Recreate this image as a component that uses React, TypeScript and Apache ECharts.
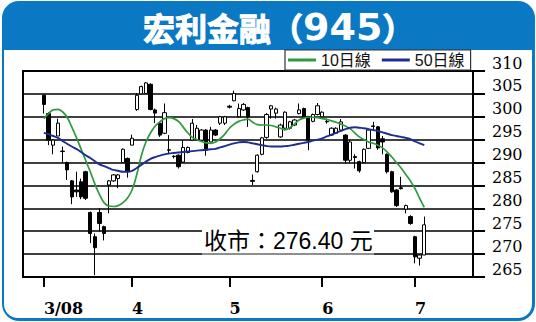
import React, { useEffect, useRef } from 'react';
import * as echarts from 'echarts';

// Month labels on the x axis and trading days shown in each month
const monthLabels = ['3/08', '4', '5', '6', '7'];
const tradingDays = [19, 21, 20, 20, 3];
const leadSlots = 4;   // empty day slots before the first candle
const tailSlots = 10;  // empty day slots after the last candle

const opens = [
  304.7, 300.7, 293.8, 295.8, 292.4, 290, 286, 284, 285.8, 288, 279.1, 273.8, 279.1, 276, 285.1, 286, 286.5, 290, 290.9,
  293.8, 301.6, 305, 305.1, 307.1, 301.5, 298.6, 296.4, 292.8, 291.4, 291.6, 290.1, 292.2, 294.9, 294.9, 294.9, 297.1, 294.5, 297.1, 298.6, 298.6,
  302.3, 303.5, 300, 301.5, 302, 286.1, 288, 291.8, 295.5, 301.7, 300.8, 295.6, 297.5, 297.5, 298.2, 300.7, 301.8, 300, 299, 300.5,
  300, 299, 296, 296.4, 297.1, 296, 290.5, 291.3, 290.2, 290, 293.1, 298, 297.8, 295.2, 291.8, 288, 284, 284.5, 279.8, 278.2,
  273.8, 269.1, 269.8,
];
const closes = [
  302.7, 294.9, 294.9, 298.6, 292.5, 288.4, 282.5, 283.6, 282.5, 282.2, 274.5, 271.4, 276.7, 274.5, 286, 287.3, 287.3, 292.9, 288,
  295.3, 304.7, 306.6, 307.4, 301.6, 300.8, 296, 300.9, 292.7, 291.3, 289.1, 293.3, 293.3, 298.6, 297.5, 297.1, 292.7, 297.1, 296, 300, 300,
  302.1, 305.1, 301.8, 302.7, 300, 285.9, 291.6, 295.4, 300.5, 302.4, 301.7, 298.2, 301, 298.9, 299.3, 301.5, 300, 294.9, 300.5, 302.4,
  301, 298.9, 297.5, 297.5, 298.9, 290.5, 294.5, 291.1, 288.2, 292.9, 297.1, 297.9, 293.2, 294.5, 288, 283.6, 280.6, 284.3, 280.6, 276.7,
  269.4, 269.8, 276.4,
];
const lows = [
  300.7, 293.8, 291.8, 295.8, 290, 286.2, 280.9, 282.5, 282, 281.8, 272.4, 265.4, 274.9, 273, 278.9, 285.8, 284.4, 290, 286.7,
  293.8, 301.3, 304.9, 305, 301.4, 298.6, 295.6, 296.2, 291.8, 290.9, 288.7, 290, 292, 294.8, 294.8, 294.7, 291.5, 294.4, 295.8, 298.2, 298.2,
  301.8, 303.4, 299.8, 301.3, 297.8, 285.1, 287.8, 291.6, 295.2, 299.6, 299.6, 295.4, 297, 297.2, 298, 300.5, 299.6, 292.7, 298.8, 300.3,
  299.8, 298.5, 295.8, 296.2, 297, 289.8, 290, 288.7, 287.8, 289.8, 293, 297.1, 292.8, 291.8, 287.6, 283.4, 280.3, 284.1, 278.9, 276.4,
  268, 267.5, 269.8,
];
const highs = [
  304.9, 301, 295.1, 299.6, 293.5, 290.2, 286.2, 288, 286.5, 288.2, 279.3, 274.5, 280, 276.2, 286.2, 287.5, 287.5, 293.1, 291.1,
  296.1, 305.2, 306.8, 307.6, 307.3, 301.8, 298.8, 302.9, 296, 291.6, 291.8, 294.9, 293.5, 299.5, 298.2, 297.3, 297.3, 297.8, 297.3, 300.2, 300.2,
  302.6, 305.7, 302.9, 303, 302.2, 287.4, 291.8, 295.6, 300.8, 302.6, 302, 298.5, 301.2, 299.1, 299.5, 302.9, 302, 300.2, 300.7, 303,
  301.2, 299.6, 297.7, 297.7, 299.5, 296.2, 295, 291.8, 290.4, 293.1, 297.3, 298.9, 298, 295.8, 292, 288.2, 284.2, 286.9, 280.8, 278.5,
  274, 270, 278.2,
];
const ma10 = [
  299.6, 300.7, 301.5, 301.6, 301.1, 299.9, 297.8, 295.5, 293, 290.5, 288, 285.3, 283, 281.2, 280.5, 280.4, 280.6, 281.2, 282.2,
  284, 287.3, 291.5, 294.5, 296.5, 298, 298.9, 299.6, 299.8, 299.6, 299, 297.8, 296.5, 295.5, 295, 294.6, 294.3, 294.2, 294.5, 295.2, 296.2,
  297.5, 298.4, 299, 299.3, 299.5, 298.8, 298.3, 298.2, 298.2, 298.1, 297.8, 297.5, 297.2, 297.6, 298.4, 299.3, 299.7, 299.9, 299.9, 299.8,
  299.6, 299.4, 299.1, 298.8, 298.4, 298, 297.4, 296.5, 295.6, 295, 294.5, 294.2, 293.8, 293.2, 292.3, 291.2, 290, 288.8, 287.4, 286,
  284.3, 282.2, 280.2,
];
const ma50 = [
  296.5, 296.2, 295.8, 295.4, 294.7, 294.1, 293.5, 293, 292.3, 291.6, 291, 290.3, 289.6, 289.2, 288.8, 288.4, 288.2, 288, 288,
  288.2, 288.8, 289.5, 290.2, 290.8, 291.2, 291.5, 291.8, 292, 292.1, 292.2, 292.3, 292.4, 292.5, 292.6, 292.7, 292.8, 292.9, 293, 293.3, 293.6,
  293.9, 294.2, 294.4, 294.5, 294.4, 294.2, 294, 293.8, 293.6, 293.5, 293.5, 293.5, 293.6, 293.7, 293.9, 294.1, 294.3, 294.5, 294.8, 295,
  295.3, 295.7, 296.1, 296.5, 296.9, 297.3, 297.6, 297.7, 297.6, 297.5, 297.3, 297.1, 296.9, 296.6, 296.3, 296, 295.8, 295.6, 295.4, 295.1,
  294.6, 294.2, 293.8,
];
const lastCloseText = '276.40';

const BLUE = '#0B78C3';
const GREEN = '#2E9A3C';
const NAVY = '#1F2E8E';

export default function App() {
  const ref = useRef<HTMLDivElement>(null);

  useEffect(() => {
    if (!ref.current) return;
    const chart = echarts.init(ref.current, null, { renderer: 'svg' });
    const n = opens.length;
    const total = leadSlots + n + tailSlots;
    const categories = Array.from({ length: total }, (_, i) => 'd' + i);
    const labelAt: Record<number, string> = {};
    let idx = leadSlots;
    tradingDays.forEach((d, k) => {
      labelAt[idx] = monthLabels[k];
      idx += d;
    });
    const pad = (arr: any[]) => [
      ...Array(leadSlots).fill('-'),
      ...arr,
      ...Array(tailSlots).fill('-'),
    ];
    const candle = pad(opens.map((o, i) => [o, closes[i], lows[i], highs[i]]));
    const isMonth = (i: number) => labelAt[i] !== undefined;

    chart.setOption({
      animation: false,
      title: {
        text: '{a|宏利金融（}{b|945}{a|）}',
        left: 138,
        top: 3,
        textStyle: {
          rich: {
            a: {
              fontSize: 32,
              fontWeight: 'bold',
              color: '#fff',
              fontFamily: 'Noto Sans CJK TC',
              textBorderColor: '#fff',
              textBorderWidth: 1,
            },
            b: {
              fontSize: 38,
              fontWeight: 'bold',
              color: '#fff',
              fontFamily: 'DejaVu Sans',
            },
          },
        },
      },
      legend: {
        left: 285,
        top: 50,
        icon: 'rect',
        itemWidth: 28,
        itemHeight: 3,
        itemGap: 11,
        padding: [2, 6, 2, 3],
        borderColor: '#333',
        borderWidth: 1.2,
        backgroundColor: '#fff',
        textStyle: {
          fontSize: 16,
          color: '#111',
          fontFamily: "'Liberation Sans', 'Noto Sans CJK TC'",
        },
        data: ['10日線', '50日線'],
      },
      grid: {
        left: 23,
        right: 63,
        top: 71,
        bottom: 45,
        show: true,
        borderColor: '#000',
        borderWidth: 2,
      },
      xAxis: {
        type: 'category',
        data: categories,
        boundaryGap: true,
        axisLine: { show: true, lineStyle: { color: '#000', width: 2 } },
        axisTick: {
          show: true,
          alignWithLabel: true,
          interval: (i: number) => isMonth(i),
          length: 10,
          lineStyle: { color: '#000', width: 2 },
        },
        axisLabel: {
          interval: (i: number) => isMonth(i),
          formatter: (_v: string, i: number) => labelAt[i] ?? '',
          align: 'left',
          margin: 23,
          fontFamily: 'DejaVu Serif',
          fontWeight: 'bold',
          fontSize: 16,
          color: '#000',
        },
        splitLine: { show: false },
      },
      yAxis: {
        type: 'value',
        position: 'right',
        min: 265,
        max: 310,
        interval: 5,
        axisLine: { show: true, lineStyle: { color: '#000', width: 2 } },
        axisTick: { show: true, length: 12, lineStyle: { color: '#000', width: 2 } },
        splitLine: { show: true, lineStyle: { color: '#000', width: 1.6 } },
        axisLabel: {
          margin: 19,
          fontFamily: 'DejaVu Serif',
          fontSize: 16,
          color: '#000',
          verticalAlign: 'bottom',
          align: 'left',
        },
      },
      series: [
        {
          type: 'candlestick',
          name: '日K',
          data: candle,
          barWidth: 3.8,
          z: 3,
          itemStyle: {
            color: '#fff',
            color0: '#000',
            borderColor: '#000',
            borderColor0: '#000',
            borderWidth: 1,
          },
        },
        {
          type: 'line',
          name: '10日線',
          data: pad(ma10),
          smooth: 0.4,
          showSymbol: false,
          color: GREEN,
          lineStyle: { color: GREEN, width: 1.7 },
          z: 4,
        },
        {
          type: 'line',
          name: '50日線',
          data: pad(ma50),
          smooth: 0.4,
          showSymbol: false,
          color: NAVY,
          lineStyle: { color: NAVY, width: 1.9 },
          z: 4,
        },
      ],
      graphic: [
        {
          type: 'rect',
          z: 50,
          shape: { x: 202, y: 219, width: 172, height: 34 },
          style: { fill: '#fff' },
        },
        {
          type: 'line',
          z: 51,
          shape: { x1: 202, y1: 254, x2: 374, y2: 254 },
          style: { stroke: '#aaa', lineWidth: 1.6 },
        },
        {
          type: 'text',
          z: 52,
          x: 204,
          y: 241,
          style: {
            text: '收市：' + lastCloseText + ' 元',
            fontSize: 23,
            fill: '#000',
            verticalAlign: 'middle',
            fontFamily: "'Liberation Sans', 'Noto Sans CJK TC'",
          },
        },
      ],
    });

    return () => chart.dispose();
  }, []);

  return (
    <div style={{ position: 'absolute', left: 0, top: 0, width: 536, height: 322, background: '#fff' }}>
      <div
        style={{
          position: 'absolute',
          left: 1.5,
          top: 0.5,
          width: 533,
          height: 320.5,
          background: BLUE,
          borderRadius: 17,
        }}
      />
      <div
        style={{
          position: 'absolute',
          left: 4.3,
          top: 49.5,
          width: 527.4,
          height: 268,
          background: '#fff',
          borderRadius: '0 0 14px 14px',
        }}
      />
      <div ref={ref} style={{ position: 'absolute', left: 0, top: 0, width: 536, height: 322 }} />
    </div>
  );
}
